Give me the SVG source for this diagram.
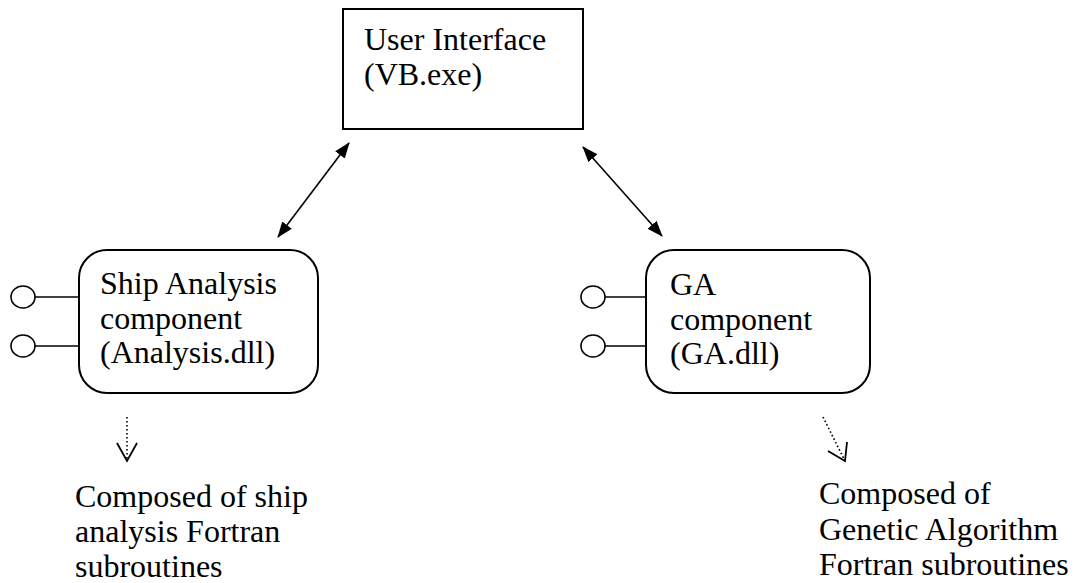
<svg xmlns="http://www.w3.org/2000/svg" width="1076" height="583" viewBox="0 0 1076 583">
<style>
text{font-family:"Liberation Serif","Times New Roman","DejaVu Serif",serif;font-size:32px;fill:#000}
.box{fill:#fff;stroke:#000;stroke-width:2}
.lp{fill:#fff;stroke:#000;stroke-width:1.6}
.stick{stroke:#000;stroke-width:1.6}
.conn{stroke:#000;stroke-width:1.6;fill:none}
.dot{stroke:#000;stroke-width:1.6;fill:none;stroke-dasharray:1.6 2.4}
.head{stroke:#000;stroke-width:1.8;fill:none}
</style>
<defs>
<marker id="arr" markerWidth="16" markerHeight="14" refX="15" refY="7" orient="auto-start-reverse" markerUnits="userSpaceOnUse">
<path d="M0,1 L16,7 L0,13 Z" fill="#000"/>
</marker>
</defs>
<rect width="1076" height="583" fill="#fff"/>
<g id="ui">
<rect class="box" x="343" y="9" width="240" height="120"/>
<text x="364" y="50">User Interface</text>
<text x="364" y="85">(VB.exe)</text>
</g>
<g id="ship">
<line class="stick" x1="35" y1="297" x2="79" y2="297"/>
<line class="stick" x1="35" y1="346" x2="79" y2="346"/>
<ellipse class="lp" cx="23" cy="297" rx="12" ry="11"/>
<ellipse class="lp" cx="23" cy="346" rx="12" ry="11"/>
<rect class="box" x="79" y="250" width="239" height="143" rx="28" ry="28"/>
<text x="100" y="294">Ship Analysis</text>
<text x="100" y="329">component</text>
<text x="100" y="363">(Analysis.dll)</text>
</g>
<g id="ga">
<line class="stick" x1="605" y1="297" x2="646" y2="297"/>
<line class="stick" x1="605" y1="346" x2="646" y2="346"/>
<ellipse class="lp" cx="593" cy="297" rx="12" ry="11"/>
<ellipse class="lp" cx="593" cy="346" rx="12" ry="11"/>
<rect class="box" x="646" y="250" width="224" height="143" rx="28" ry="28"/>
<text x="670" y="295">GA</text>
<text x="670" y="330">component</text>
<text x="670" y="364">(GA.dll)</text>
</g>
<g id="note-ship">
<text x="75" y="507">Composed of ship</text>
<text x="75" y="542">analysis Fortran</text>
<text x="75" y="577">subroutines</text>
</g>
<g id="note-ga">
<text x="819" y="504">Composed of</text>
<text x="819" y="540">Genetic Algorithm</text>
<text x="819" y="575">Fortran subroutines</text>
</g>
<g id="connectors">
<line class="conn" x1="278" y1="237" x2="349" y2="143" marker-start="url(#arr)" marker-end="url(#arr)"/>
<line class="conn" x1="583" y1="147" x2="662" y2="236" marker-start="url(#arr)" marker-end="url(#arr)"/>
<line class="dot" x1="127" y1="417" x2="127" y2="460"/>
<polyline class="head" points="117,443 127,461 137,443"/>
<line class="dot" x1="823" y1="417" x2="844" y2="459"/>
<polyline class="head" points="828,451 845,461 847,442"/>
</g>
</svg>
